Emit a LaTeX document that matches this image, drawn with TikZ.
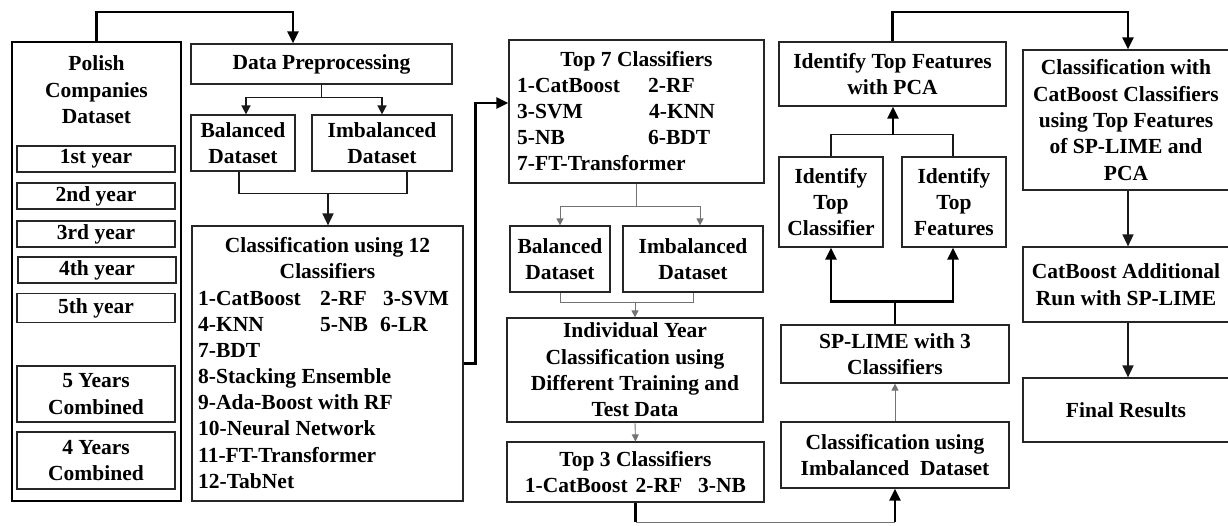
\documentclass[tikz,border=0pt]{standalone}
\usepackage{fontspec}
\setmainfont{Liberation Serif}
\usetikzlibrary{arrows.meta}
\begin{document}
\begin{tikzpicture}[x=1pt,y=-1pt,
  fnt/.style={font=\fontsize{21.5}{26.4}\selectfont\bfseries},
  box/.style={fnt,draw=black!85,line width=1.2pt,rectangle,inner sep=0pt,align=center},
  lbl/.style={fnt,inner sep=0pt},
  row/.style={fnt,inner sep=0pt,anchor=base west},
  thk/.style={line width=2.4pt,draw=black},
  med/.style={line width=1.5pt,draw=black!90},
  thn/.style={line width=0.9pt,draw=black!55},
  bigtip/.style={-{Triangle[length=12pt,width=11pt]}},
  midtip/.style={-{Triangle[length=9pt,width=9pt]}},
  smalltip/.style={-{Triangle[length=7pt,width=7pt]}}]
\path[use as bounding box] (0,0) rectangle (1228,525);
\clip (0,0) rectangle (1228,525);

% ---- column 1
\node[box,draw=black,line width=2.5pt,minimum width=169pt,minimum height=459pt] (poly) at (96.5,271.5) {};
\node[lbl,align=center] (polyt) at (96.5,90) {Polish\\Companies\\Dataset};
\node[box,minimum width=158pt,minimum height=26pt] (y1) at (96,159) {1st year};
\node[box,minimum width=158pt,minimum height=26pt] (y2) at (96,196) {2nd year};
\node[box,minimum width=158pt,minimum height=26pt] (y3) at (96,234) {3rd year};
\node[box,minimum width=158pt,minimum height=26pt] (y4) at (97,270) {4th year};
\node[box,minimum width=158pt,minimum height=29pt] (y5) at (96,308) {5th year};
\node[box,minimum width=158pt,minimum height=56pt] (c5) at (96,394) {5 Years\\Combined};
\node[box,minimum width=158pt,minimum height=57pt] (c4) at (96,460.5) {4 Years\\Combined};

% ---- column 2
\node[box,minimum width=261pt,minimum height=40pt] (dp) at (321.5,64) {Data Preprocessing};
\node[box,minimum width=104pt,minimum height=56pt] (bal1) at (243,143) {Balanced\\Dataset};
\node[box,minimum width=140pt,minimum height=56pt] (imb1) at (382,143) {Imbalanced\\Dataset};
\node[box,minimum width=271pt,minimum height=275pt] (cls12) at (327.5,363.5) {};
\node[lbl,anchor=base] (c12a) at (327.5,252) {Classification using 12};
\node[lbl,anchor=base] (c12b) at (327.5,278) {Classifiers};
\node[row] (r1a) at (198,305) {1-CatBoost};
\node[row] (r1b) at (320,305) {2-RF};
\node[row] (r1c) at (383,305) {3-SVM};
\node[row] (r2a) at (198,331) {4-KNN};
\node[row] (r2b) at (320,331) {5-NB};
\node[row] (r2c) at (380,331) {6-LR};
\node[row] (r3) at (198,357) {7-BDT};
\node[row] (r4) at (198,383) {8-Stacking Ensemble};
\node[row] (r5) at (198,409) {9-Ada-Boost with RF};
\node[row] (r6) at (198,435) {10-Neural Network};
\node[row] (r7) at (198,462) {11-FT-Transformer};
\node[row] (r8) at (198,488) {12-TabNet};

% ---- column 3
\node[box,minimum width=255pt,minimum height=143pt] (top7) at (636.5,111.5) {};
\node[lbl,anchor=base] (t7) at (636.5,66) {Top 7 Classifiers};
\node[row] (s1a) at (517,92) {1-CatBoost};
\node[row] (s1b) at (648,92) {2-RF};
\node[row] (s2a) at (517,118) {3-SVM};
\node[row] (s2b) at (649,118) {4-KNN};
\node[row] (s3a) at (517,144) {5-NB};
\node[row] (s3b) at (648,144) {6-BDT};
\node[row] (s4) at (517,170) {7-FT-Transformer};
\node[box,minimum width=100pt,minimum height=66pt] (bal2) at (560,259) {Balanced\\Dataset};
\node[box,minimum width=140pt,minimum height=66pt] (imb2) at (693,259) {Imbalanced\\Dataset};
\node[box,minimum width=256pt,minimum height=104pt] (indiv) at (635,370) {Individual Year\\Classification using\\Different Training and\\Test Data};
\node[box,minimum width=257pt,minimum height=60pt] (top3) at (635.5,472) {Top 3 Classifiers\\1-CatBoost\hspace{8pt}2-RF\hspace{16pt}3-NB};

% ---- column 4
\node[box,minimum width=227pt,minimum height=64pt] (pca) at (892.5,74) {Identify Top Features\\with PCA};
\node[box,minimum width=104pt,minimum height=90pt] (idc) at (831,202) {Identify\\Top\\Classifier};
\node[box,minimum width=104pt,minimum height=90pt] (idf) at (954,202) {Identify\\Top\\Features};
\node[box,minimum width=228pt,minimum height=58pt] (sp) at (895,354) {SP-LIME with 3\\Classifiers};
\node[box,minimum width=228pt,minimum height=66pt] (cimb) at (895,455) {Classification using\\Imbalanced\ \ Dataset};

% ---- column 5
\node[box,minimum width=206pt,minimum height=140pt] (cat) at (1126,120) {Classification with\\CatBoost Classifiers\\using Top Features\\of SP-LIME and\\PCA};
\node[box,minimum width=206pt,minimum height=75pt] (add) at (1126,284.5) {CatBoost Additional\\Run with SP-LIME};
\node[box,minimum width=206pt,minimum height=64pt] (fin) at (1126,410) {Final Results};

% ---- connectors
\draw[thk,bigtip] (poly.north) -- (poly.north |- 0,12) -| (dp.north -| 293,0);
\draw[med,midtip] (dp.south) -- ++(0,13) -| (bal1.north -| 246,0);
\draw[med,midtip] (dp.south) -- ++(0,13) -| (imb1.north);
\draw[med] (bal1.south -| 239,0) -- ++(0,22) -| (imb1.south -| 407,0);
\coordinate (j1) at (328,193);
\draw[med,bigtip] (j1) -- (cls12.north -| j1);
\draw[thk,bigtip] (cls12.east) -- ++(12,0) |- (top7.west |- 0,103);

\draw[thn,smalltip] (top7.south) -- ++(0,23) -| (bal2.north);
\draw[thn,smalltip] (top7.south) -- ++(0,23) -| (imb2.north -| 700,0);
\draw[thn] (bal2.south) -- ++(0,10) -| (imb2.south);
\coordinate (j2) at (635,302);
\draw[thn,smalltip] (j2) -- (indiv.north -| j2);
\draw[thn,smalltip] (indiv.south) -- (top3.north);
\draw[thk] (top3.south) -- (top3.south |- 0,522) coordinate (b1);
\draw[thn] (b1) -- (b1 -| cimb.south);
\draw[thk,bigtip] (b1 -| cimb.south) -- (cimb.south);

\draw[thn,smalltip] (cimb.north) -- (sp.south);
\draw[thk,bigtip] (sp.north) -- ++(0,-23) -| (idc.south);
\draw[thk,bigtip] (sp.north) -- ++(0,-23) -| (idf.south -| 953,0);
\draw[med] (idc.north) -- ++(0,-22) -| (idf.north -| 953,0);
\coordinate (j3) at (893,135);
\draw[thk,bigtip] (j3) -- (pca.south -| j3);
\draw[thk,bigtip] (pca.north) -- (pca.north |- 0,12) -| (cat.north -| 1128,0);
\draw[med,bigtip] (cat.south -| 1128,0) -- (add.north -| 1128,0);
\draw[med,bigtip] (add.south -| 1128,0) -- (fin.north -| 1128,0);
\end{tikzpicture}
\end{document}
